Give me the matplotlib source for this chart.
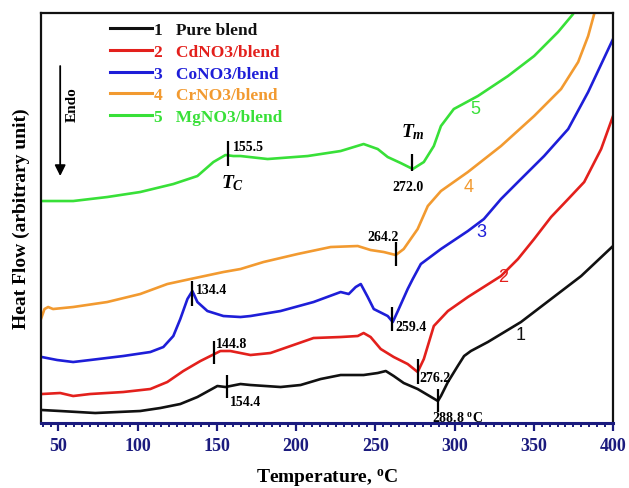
import matplotlib
matplotlib.use('Agg')
import matplotlib.pyplot as plt

# DSC traces, temperature in degC, heat flow in arbitrary units
temp_1 = [39.5, 51.1, 73.2, 101.6, 114.3, 126.9, 137.7, 150.3, 155.4, 164.9,
          171.2, 190.2, 202.8, 215.5, 228.1, 242.6, 251.5, 256.6, 261.6, 267.9,
          276.7, 289.5, 291.4, 295.8, 302.0, 306.0, 310.3, 321.0, 341.9, 360.9,
          379.9, 400.0]
flow_1 = [13, 12, 10, 12, 15, 19, 26, 37, 36, 39,
          38, 36, 38, 44, 48, 48, 50, 52, 47, 40,
          34, 22, 27, 41, 57, 67, 72, 81, 101, 124,
          147, 177]

temp_2 = [39.5, 51.1, 59.3, 70.0, 90.9, 108.0, 118.7, 128.8, 139.6, 152.2,
          158.5, 171.2, 183.8, 196.5, 211.0, 228.1, 238.9, 242.6, 247.0, 253.4,
          261.6, 270.4, 276.7, 280.6, 286.9, 295.8, 308.4, 329.3, 340.0, 350.2,
          360.9, 371.7, 381.8, 392.5, 400.0]
flow_2 = [29, 30, 27, 29, 31, 34, 41, 52, 62, 72,
          72, 68, 70, 77, 85, 86, 87, 90, 86, 74,
          66, 59, 51, 64, 97, 112, 126, 147, 164, 184,
          206, 224, 241, 274, 307]

temp_3 = [39.5, 49.2, 59.3, 70.0, 90.9, 108.0, 116.2, 122.5, 126.9, 131.4,
          134.5, 137.7, 144.0, 154.1, 164.9, 171.2, 190.2, 211.0, 228.1, 233.2,
          237.6, 240.8, 245.2, 249.0, 257.8, 261.0, 264.2, 270.4, 273.6, 278.7,
          291.4, 308.4, 318.5, 329.3, 340.0, 356.5, 371.7, 384.3, 400.0]
flow_3 = [66, 63, 61, 63, 67, 71, 76, 87, 104, 124,
          132, 121, 112, 107, 106, 107, 112, 121, 131, 129,
          136, 139, 126, 114, 107, 101, 112, 134, 144, 159,
          174, 192, 204, 224, 241, 267, 294, 331, 384]

temp_4 = [39.2, 41.2, 43.5, 46.6, 59.3, 80.8, 101.6, 118.7, 133.3, 154.1,
          164.9, 179.4, 200.9, 221.8, 238.9, 247.0, 255.3, 262.9, 267.9, 276.7,
          283.1, 291.4, 308.4, 329.3, 350.2, 367.2, 378.0, 384.3, 388.1, 389.5]
flow_4 = [105, 114, 116, 114, 116, 121, 129, 139, 144, 151,
          154, 161, 169, 176, 177, 173, 171, 168, 174, 194,
          217, 232, 251, 277, 307, 334, 361, 387, 409, 418]

temp_5 = [39.5, 59.3, 80.8, 101.6, 122.5, 137.7, 147.8, 155.4, 160.4, 164.9,
          182.0, 207.3, 228.1, 242.6, 251.5, 257.8, 266.0, 273.6, 280.6, 286.9,
          291.4, 299.5, 314.7, 333.7, 350.2, 365.3, 374.8, 376.0]
flow_5 = [222, 222, 226, 231, 239, 247, 261, 268, 267, 267,
          264, 267, 272, 279, 274, 266, 260, 254, 261, 277,
          297, 314, 327, 347, 367, 391, 409, 418]

names = ['Pure blend', 'CdNO3/blend', 'CoNO3/blend', 'CrNO3/blend', 'MgNO3/blend']
colors = ['#111111', '#e3201c', '#1e1ed8', '#f29a30', '#38e038']

# peak markers: temperature, bottom, top of the tick mark
mark_t = [156.6, 148.4, 134.5, 157.3, 273.0, 263.0, 260.4, 276.9, 289.5]
mark_lo = [25, 59, 117, 257, 252, 157, 92, 39, 11]
mark_hi = [48, 82, 142, 282, 269, 181, 116, 64, 34]

plt.rcParams['mathtext.fontset'] = 'custom'
plt.rcParams['mathtext.rm'] = 'Liberation Serif:bold'
plt.rcParams['mathtext.it'] = 'Liberation Serif:italic:bold'
plt.rcParams['mathtext.bf'] = 'Liberation Serif:bold'
serif = dict(family='Liberation Serif', weight='bold')
navy = '#1b1b7e'

fig = plt.figure(figsize=(6.29, 4.89), dpi=100)
ax = fig.add_axes([0.0652, 0.1329, 0.9094, 0.8384])

curves = [(temp_1, flow_1), (temp_2, flow_2), (temp_3, flow_3),
          (temp_4, flow_4), (temp_5, flow_5)]
lines = []
for n, (t, f) in enumerate(curves):
    ln, = ax.plot(t, f, color=colors[n], lw=1.9,
                  label='%d   %s' % (n + 1, names[n]))
    lines.append(ln)

ax.vlines(mark_t, mark_lo, mark_hi, color='k', lw=1.6)

# peak temperatures
small = dict(fontsize=10, **serif)
ax.text(158.0, 22, '154.4', ha='left', va='center', **small)
ax.text(149.7, 80, '144.8', ha='left', va='center', **small)
ax.text(137.0, 134, '134.4', ha='left', va='center', **small)
ax.text(160.4, 277, '155.5', ha='left', va='center', **small)
ax.text(270.8, 237, '272.0', ha='center', va='center', **small)
ax.text(254.8, 187, '264.2', ha='center', va='center', **small)
ax.text(262.8, 97, '259.4', ha='left', va='center', **small)
ax.text(278.0, 46, '276.2', ha='left', va='center', **small)
ax.text(285.6, 6, r'288.8 $^{\mathrm{o}}$C', ha='left', va='center', **small)
ax.text(160.0, 241, r'$T_C$', ha='center', va='center', fontsize=14)
ax.text(273.8, 292, r'$T_m$', ha='center', va='center', fontsize=14)

# curve numbers
num_pos = [(341.9, 89), (330.5, 147), (317.2, 192), (309.0, 237), (312.8, 315)]
for n, (x, y) in enumerate(num_pos):
    ax.text(x, y, str(n + 1), color=colors[n], fontsize=13,
            family='Liberation Sans', ha='center', va='center')

# endotherm direction
ax.annotate('', xy=(51.1, 247), xytext=(51.1, 357),
            arrowprops=dict(arrowstyle='-|>', color='k', lw=1.3,
                            mutation_scale=16, shrinkA=0, shrinkB=0))
ax.text(58.7, 319, 'Endo', rotation=90, ha='center', va='center',
        fontsize=11, **serif)

ax.set_xlim(39, 400)
ax.set_ylim(0, 410)
ax.set_yticks([])
ax.set_xticks(range(50, 401, 50))
ax.set_xticks(range(40, 401, 5), minor=True)
ax.tick_params(axis='x', which='major', direction='out', length=6, width=1.6,
               color=navy, labelcolor=navy, pad=4)
ax.tick_params(axis='x', which='minor', direction='out', length=3, width=1.4,
               color=navy)
for lab in ax.get_xticklabels():
    lab.set_fontfamily('Liberation Serif')
    lab.set_fontweight('bold')
    lab.set_fontsize(13)

for s in ['left', 'right', 'top']:
    ax.spines[s].set_linewidth(1.6)
    ax.spines[s].set_color('#111111')
ax.spines['bottom'].set_linewidth(2.2)
ax.spines['bottom'].set_color(navy)

ax.set_xlabel(r'Temperature, $^{\mathrm{o}}$C', fontsize=14, labelpad=9, **serif)
ax.set_ylabel('Heat Flow (arbitrary unit)', fontsize=14, labelpad=8, **serif)

leg = ax.legend(handles=lines, loc='upper left', bbox_to_anchor=(0.1206, 0.978),
                frameon=False, borderpad=0, borderaxespad=0, handlelength=2.4,
                handletextpad=0.15, labelspacing=0.32, labelcolor='linecolor',
                prop=dict(family='Liberation Serif', weight='bold', size=12.5))
for h in leg.legend_handles:
    h.set_linewidth(2.2)

fig.savefig('out.png', dpi=100)
